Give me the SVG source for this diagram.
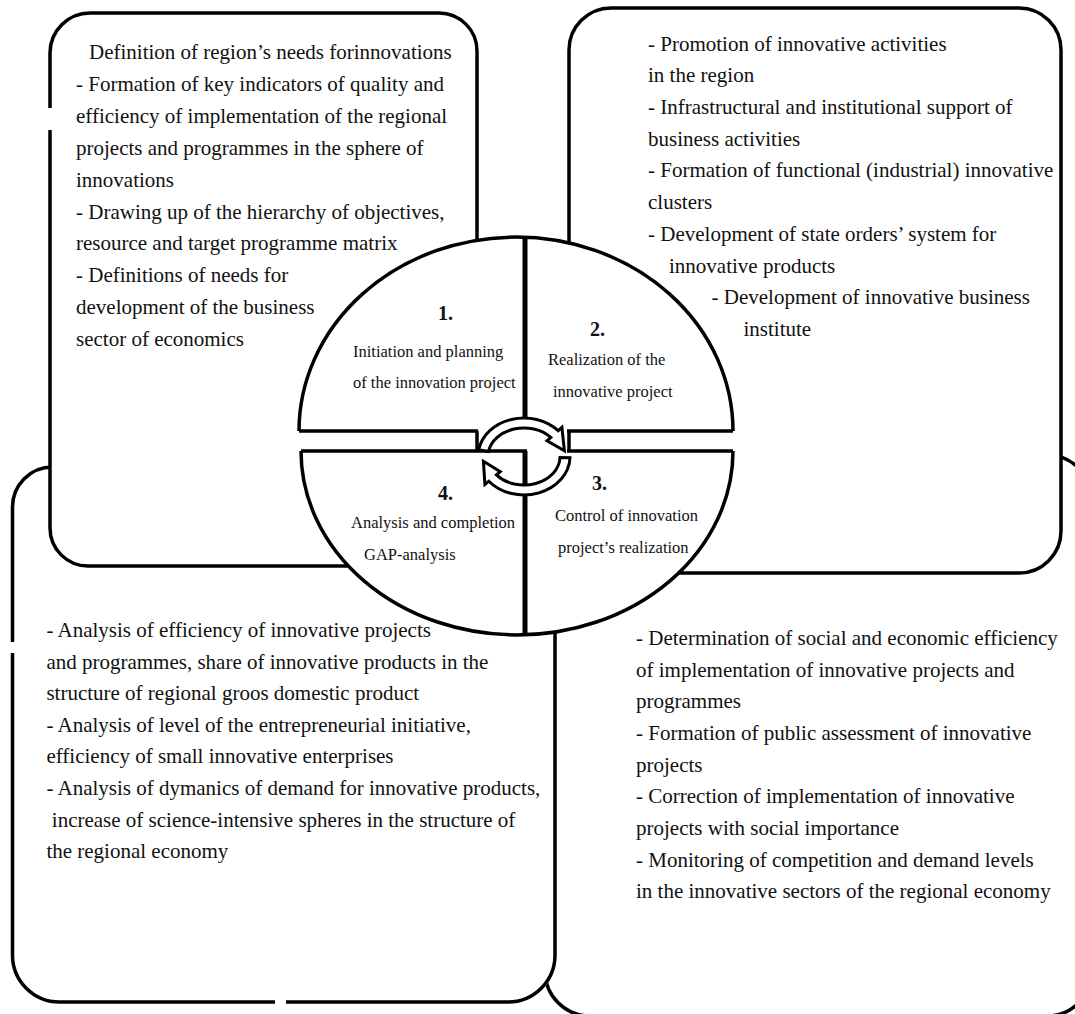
<svg xmlns="http://www.w3.org/2000/svg" width="1075" height="1014" viewBox="0 0 1075 1014">
<style>
.bg{fill:#fff;stroke:none}
.edge{fill:none;stroke:#000;stroke-width:3.5;stroke-linecap:butt}
.box{fill:#fff;stroke:#000;stroke-width:3.5}
.div{fill:none;stroke:#000;stroke-width:5}
.ring{fill:#fff;stroke:#000;stroke-width:3;stroke-linejoin:miter}
.t{font-family:"Liberation Serif","Times New Roman",serif;font-size:21px;fill:#111}
.c{font-family:"Liberation Serif","Times New Roman",serif;font-size:16.5px;fill:#111}
.n{font-family:"Liberation Serif","Times New Roman",serif;font-size:20px;font-weight:bold;fill:#111}
</style>
<rect width="1075" height="1014" fill="#fff"/>

<g id="box-bottom-right">
<rect class="box" x="545" y="455" width="547" height="561" rx="45" ry="45"/>
<text class="t" x="636" y="645">- Determination of social and economic efficiency</text>
<text class="t" x="636" y="676.6">of implementation of innovative projects and</text>
<text class="t" x="636" y="708.3">programmes</text>
<text class="t" x="636" y="740">- Formation of public assessment of innovative</text>
<text class="t" x="636" y="771.6">projects</text>
<text class="t" x="636" y="803.2">- Correction of implementation of innovative</text>
<text class="t" x="636" y="835">projects with social importance</text>
<text class="t" x="636" y="866.5">- Monitoring of competition and demand levels</text>
<text class="t" x="636" y="898">in the innovative sectors of the regional economy</text>
</g>

<g id="box-bottom-left">
<rect class="bg" x="12.5" y="467" width="542.5" height="535" rx="42" ry="42"/>
<path class="edge" d="M286,1002 H508 A47,47 0 0 0 555,955 V507 A40,40 0 0 0 515,467 H52.5 A40,40 0 0 0 12.5,507 V642"/>
<path class="edge" d="M12.5,653 V955 A47,47 0 0 0 59.5,1002 H275"/>
<text class="t" x="46.4" y="637">- Analysis of efficiency of innovative projects</text>
<text class="t" x="46.4" y="668.6">and programmes, share of innovative products in the</text>
<text class="t" x="46.4" y="700">structure of regional groos domestic product</text>
<text class="t" x="46.4" y="731.8">- Analysis of level of the entrepreneurial initiative,</text>
<text class="t" x="46.4" y="763.4">efficiency of small innovative enterprises</text>
<text class="t" x="46.4" y="795">- Analysis of dymanics of demand for innovative products,</text>
<text class="t" x="51.8" y="826.6">increase of science-intensive spheres in the structure of</text>
<text class="t" x="46.4" y="858">the regional economy</text>
</g>

<g id="box-top-left">
<rect class="bg" x="50" y="13" width="427" height="553" rx="40" ry="40"/>
<path class="edge" d="M50,130 V528 A38,38 0 0 0 88,566 H437 A40,40 0 0 0 477,526 V51 A38,38 0 0 0 439,13 H90 A40,40 0 0 0 50,53 V108"/>
<text class="t" x="89" y="59">Definition of region’s needs forinnovations</text>
<text class="t" x="76" y="91">- Formation of key indicators of quality and</text>
<text class="t" x="76" y="123">efficiency of implementation of the regional</text>
<text class="t" x="76" y="155">projects and programmes in the sphere of</text>
<text class="t" x="76" y="187">innovations</text>
<text class="t" x="76" y="218.5">- Drawing up of the hierarchy of objectives,</text>
<text class="t" x="76" y="250">resource and target programme matrix</text>
<text class="t" x="76" y="282">- Definitions of needs for</text>
<text class="t" x="76" y="314">development of the business</text>
<text class="t" x="76" y="346">sector of economics</text>
</g>

<g id="box-top-right">
<rect class="box" x="569" y="8" width="492" height="565" rx="42" ry="42"/>
<text class="t" x="648" y="50.5">- Promotion of innovative activities</text>
<text class="t" x="648" y="82">in the region</text>
<text class="t" x="648" y="114">- Infrastructural and institutional support of</text>
<text class="t" x="648" y="145.5">business activities</text>
<text class="t" x="648" y="177">- Formation of functional (industrial) innovative</text>
<text class="t" x="648" y="209">clusters</text>
<text class="t" x="648" y="241">- Development of state orders’ system for</text>
<text class="t" x="669" y="272.5">innovative products</text>
<text class="t" x="711.5" y="304">- Development of innovative business</text>
<text class="t" x="743.5" y="336">institute</text>
</g>

<g id="stage-upper">
<path class="bg" d="M299,431 A217,194 0 0 1 733,431 Z"/>
<path class="edge" d="M299,431 A217,194 0 0 1 733,431"/>
<path class="edge" d="M299,431 H478 M567,431 H733"/>
<line class="div" x1="525" y1="237" x2="525" y2="417"/>
</g>

<g id="stage-lower">
<path class="bg" d="M301,451 A216,184 0 0 0 733,451 Z"/>
<path class="edge" d="M301,451 A216,184 0 0 0 733,451"/>
<path class="edge" d="M301,451 H527 M567,451 H733"/>
<line class="div" x1="525" y1="451" x2="525" y2="634"/>
</g>

<g id="stage-1">
<text class="n" x="438" y="320">1.</text>
<text class="c" x="353" y="356.7">Initiation and planning</text>
<text class="c" x="353" y="388.3">of the innovation project</text>
</g>
<g id="stage-2">
<text class="n" x="590" y="336">2.</text>
<text class="c" x="548" y="365">Realization of the</text>
<text class="c" x="553" y="396.7">innovative project</text>
</g>
<g id="stage-3">
<text class="n" x="592" y="490">3.</text>
<text class="c" x="555" y="520.7">Control of innovation</text>
<text class="c" x="558" y="552.7">project’s realization</text>
</g>
<g id="stage-4">
<text class="n" x="438" y="500">4.</text>
<text class="c" x="351" y="528.3">Analysis and completion</text>
<text class="c" x="364" y="560">GAP-analysis</text>
</g>

<g id="connectors">
<path class="ring" d="M478.7,449.8 A46,38.5 0 0 1 558.2,430.7 L561.9,427.4 L564.4,450.7 L547,440.8 L550.8,437.4 A36,28.5 0 0 0 488.5,451.6 Z"/>
<path class="ring" d="M570,457.8 A46,38.5 0 0 1 488.8,481.2 L484.9,484.5 L483.4,461.2 L500.3,471.6 L496.4,474.8 A36,28.5 0 0 0 560,457.5 Z"/>
</g>
</svg>
